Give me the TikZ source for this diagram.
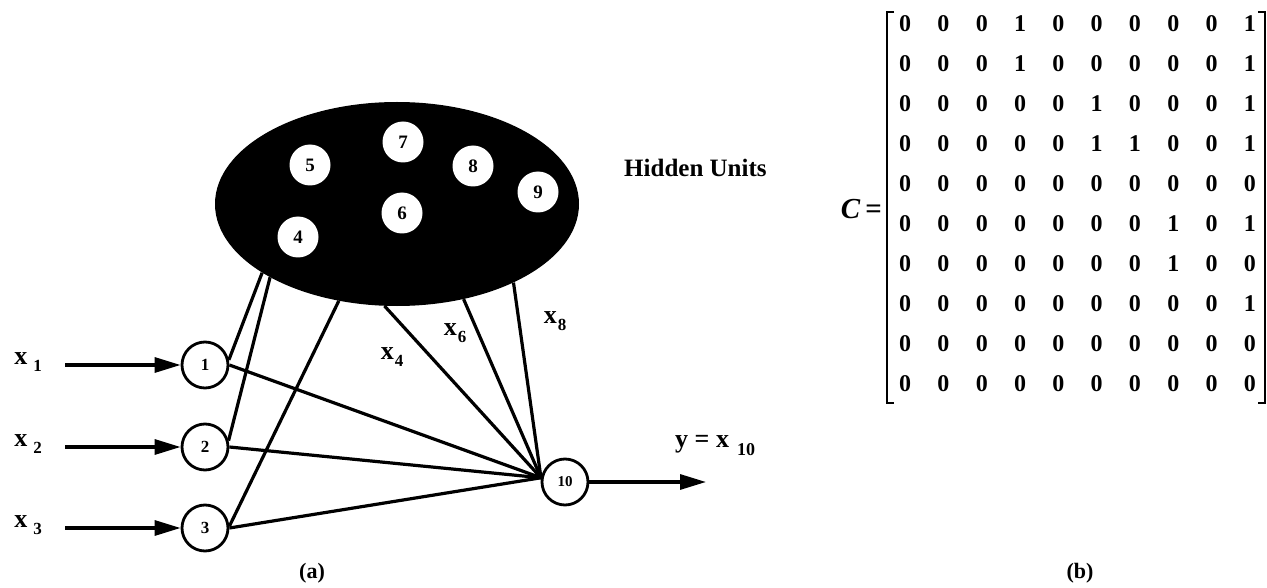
\documentclass[tikz,border=0pt]{standalone}
\usepackage{fontspec}
\setmainfont{Liberation Serif}
\usetikzlibrary{arrows.meta,shapes.geometric,matrix}
\newcommand\xsub[2][1pt]{x\kern#1\raisebox{-7pt}{\fontsize{17}{17}\selectfont #2}}
\begin{document}
\begin{tikzpicture}[x=1pt,y=-1pt,
  conn/.style={line width=3.2pt},
  inarrow/.style={line width=3.2pt,-{Triangle[length=26pt,width=15pt]}},
  unit/.style={circle,draw,line width=2.8pt,fill=white,minimum size=46pt,inner sep=0pt,font=\fontsize{17}{17}\selectfont\bfseries},
  hid/.style={circle,fill=white,minimum size=41pt,inner sep=0pt,font=\fontsize{19}{19}\selectfont\bfseries},
  lbl/.style={font=\fontsize{26}{26}\selectfont\bfseries,inner sep=0pt},
  captext/.style={font=\fontsize{22}{22}\selectfont\bfseries,inner sep=0pt},
  brk/.style={line width=2.8pt},
]
\useasboundingbox (0,0) rectangle (1267,588);

% hidden units cloud
\node[ellipse,fill=black,minimum width=364pt,minimum height=204pt,inner sep=0pt] (hu) at (397,204) {};
\node[hid] (h4) at (298,237) {4};
\node[hid] (h5) at (310,165) {5};
\node[hid] (h6) at (402,213) {6};
\node[hid] (h7) at (403,142) {7};
\node[hid] (h8) at (473,166) {8};
\node[hid] (h9) at (538,192) {9};
\node[inner sep=0pt,anchor=west,font=\fontsize{25}{25}\selectfont\bfseries] (hlab) at (624,168) {Hidden Units};

% input / output units
\node[unit] (n1) at (205,365) {1};
\node[unit] (n2) at (205,447) {2};
\node[unit] (n3) at (205,528) {3};
\node[unit,font=\fontsize{15}{15}\selectfont\bfseries] (n10) at (565,482) {10};

% input arrows
\coordinate (i1) at (65,365);
\coordinate (i2) at (65,447);
\coordinate (i3) at (65,528);
\draw[inarrow] (i1) -- (n1.west);
\draw[inarrow] (i2) -- (n2.west);
\draw[inarrow] (i3) -- (n3.west);
\node[lbl,anchor=center] (lx1) at (28,362) {\xsub[6pt]{1}};
\node[lbl,anchor=center] (lx2) at (28,444) {\xsub[6pt]{2}};
\node[lbl,anchor=center] (lx3) at (28,525) {\xsub[6pt]{3}};

% connections
\draw[conn] (hu.207) -- (n1.12);
\draw[conn] (hu.210) -- (n2.15);
\draw[conn] (hu.239) -- (n3.4);
\draw[conn] (n1.east) -- (n10.170);
\draw[conn] (n2.east) -- (n10.170);
\draw[conn] (n3.east) -- (n10.170);
\draw[conn] (hu.263) -- (n10.170);
\draw[conn] (hu.305) -- (n10.170);
\draw[conn] (hu.326) -- (n10.170);
\node[lbl] (lx4) at (392,357) {\xsub{4}};
\node[lbl] (lx6) at (455,333) {\xsub{6}};
\node[lbl] (lx8) at (555,321) {\xsub{8}};

% output
\coordinate (out) at (706,482);
\draw[inarrow] (n10.east) -- (out);
\node[lbl,anchor=west] (ylab) at (675,446) {y = x\kern8pt\raisebox{-8pt}{\fontsize{18}{18}\selectfont 10}};

% matrix
\node[inner sep=0pt,anchor=east,font=\fontsize{29}{29}\selectfont\bfseries] (ceq) at (882,209) {\textit{C}\,=};
\matrix[matrix of nodes,inner sep=0pt,anchor=center,
  nodes={minimum width=38.3pt,minimum height=40pt,inner sep=0pt,anchor=center,font=\fontsize{24}{24}\selectfont\bfseries},
  column sep=0pt,row sep=0pt] (m) at (1077.5,204) {
0 & 0 & 0 & 1 & 0 & 0 & 0 & 0 & 0 & 1 \\
0 & 0 & 0 & 1 & 0 & 0 & 0 & 0 & 0 & 1 \\
0 & 0 & 0 & 0 & 0 & 1 & 0 & 0 & 0 & 1 \\
0 & 0 & 0 & 0 & 0 & 1 & 1 & 0 & 0 & 1 \\
0 & 0 & 0 & 0 & 0 & 0 & 0 & 0 & 0 & 0 \\
0 & 0 & 0 & 0 & 0 & 0 & 0 & 1 & 0 & 1 \\
0 & 0 & 0 & 0 & 0 & 0 & 0 & 1 & 0 & 0 \\
0 & 0 & 0 & 0 & 0 & 0 & 0 & 0 & 0 & 1 \\
0 & 0 & 0 & 0 & 0 & 0 & 0 & 0 & 0 & 0 \\
0 & 0 & 0 & 0 & 0 & 0 & 0 & 0 & 0 & 0 \\
};
\draw[brk] (894,12) -- (887,12) -- (887,403) -- (894,403);
\draw[brk] (1258,12) -- (1265,12) -- (1265,403) -- (1258,403);

% captions
\node[captext] (capa) at (312,573) {(a)};
\node[captext] (capb) at (1080,573) {(b)};
\end{tikzpicture}
\end{document}
